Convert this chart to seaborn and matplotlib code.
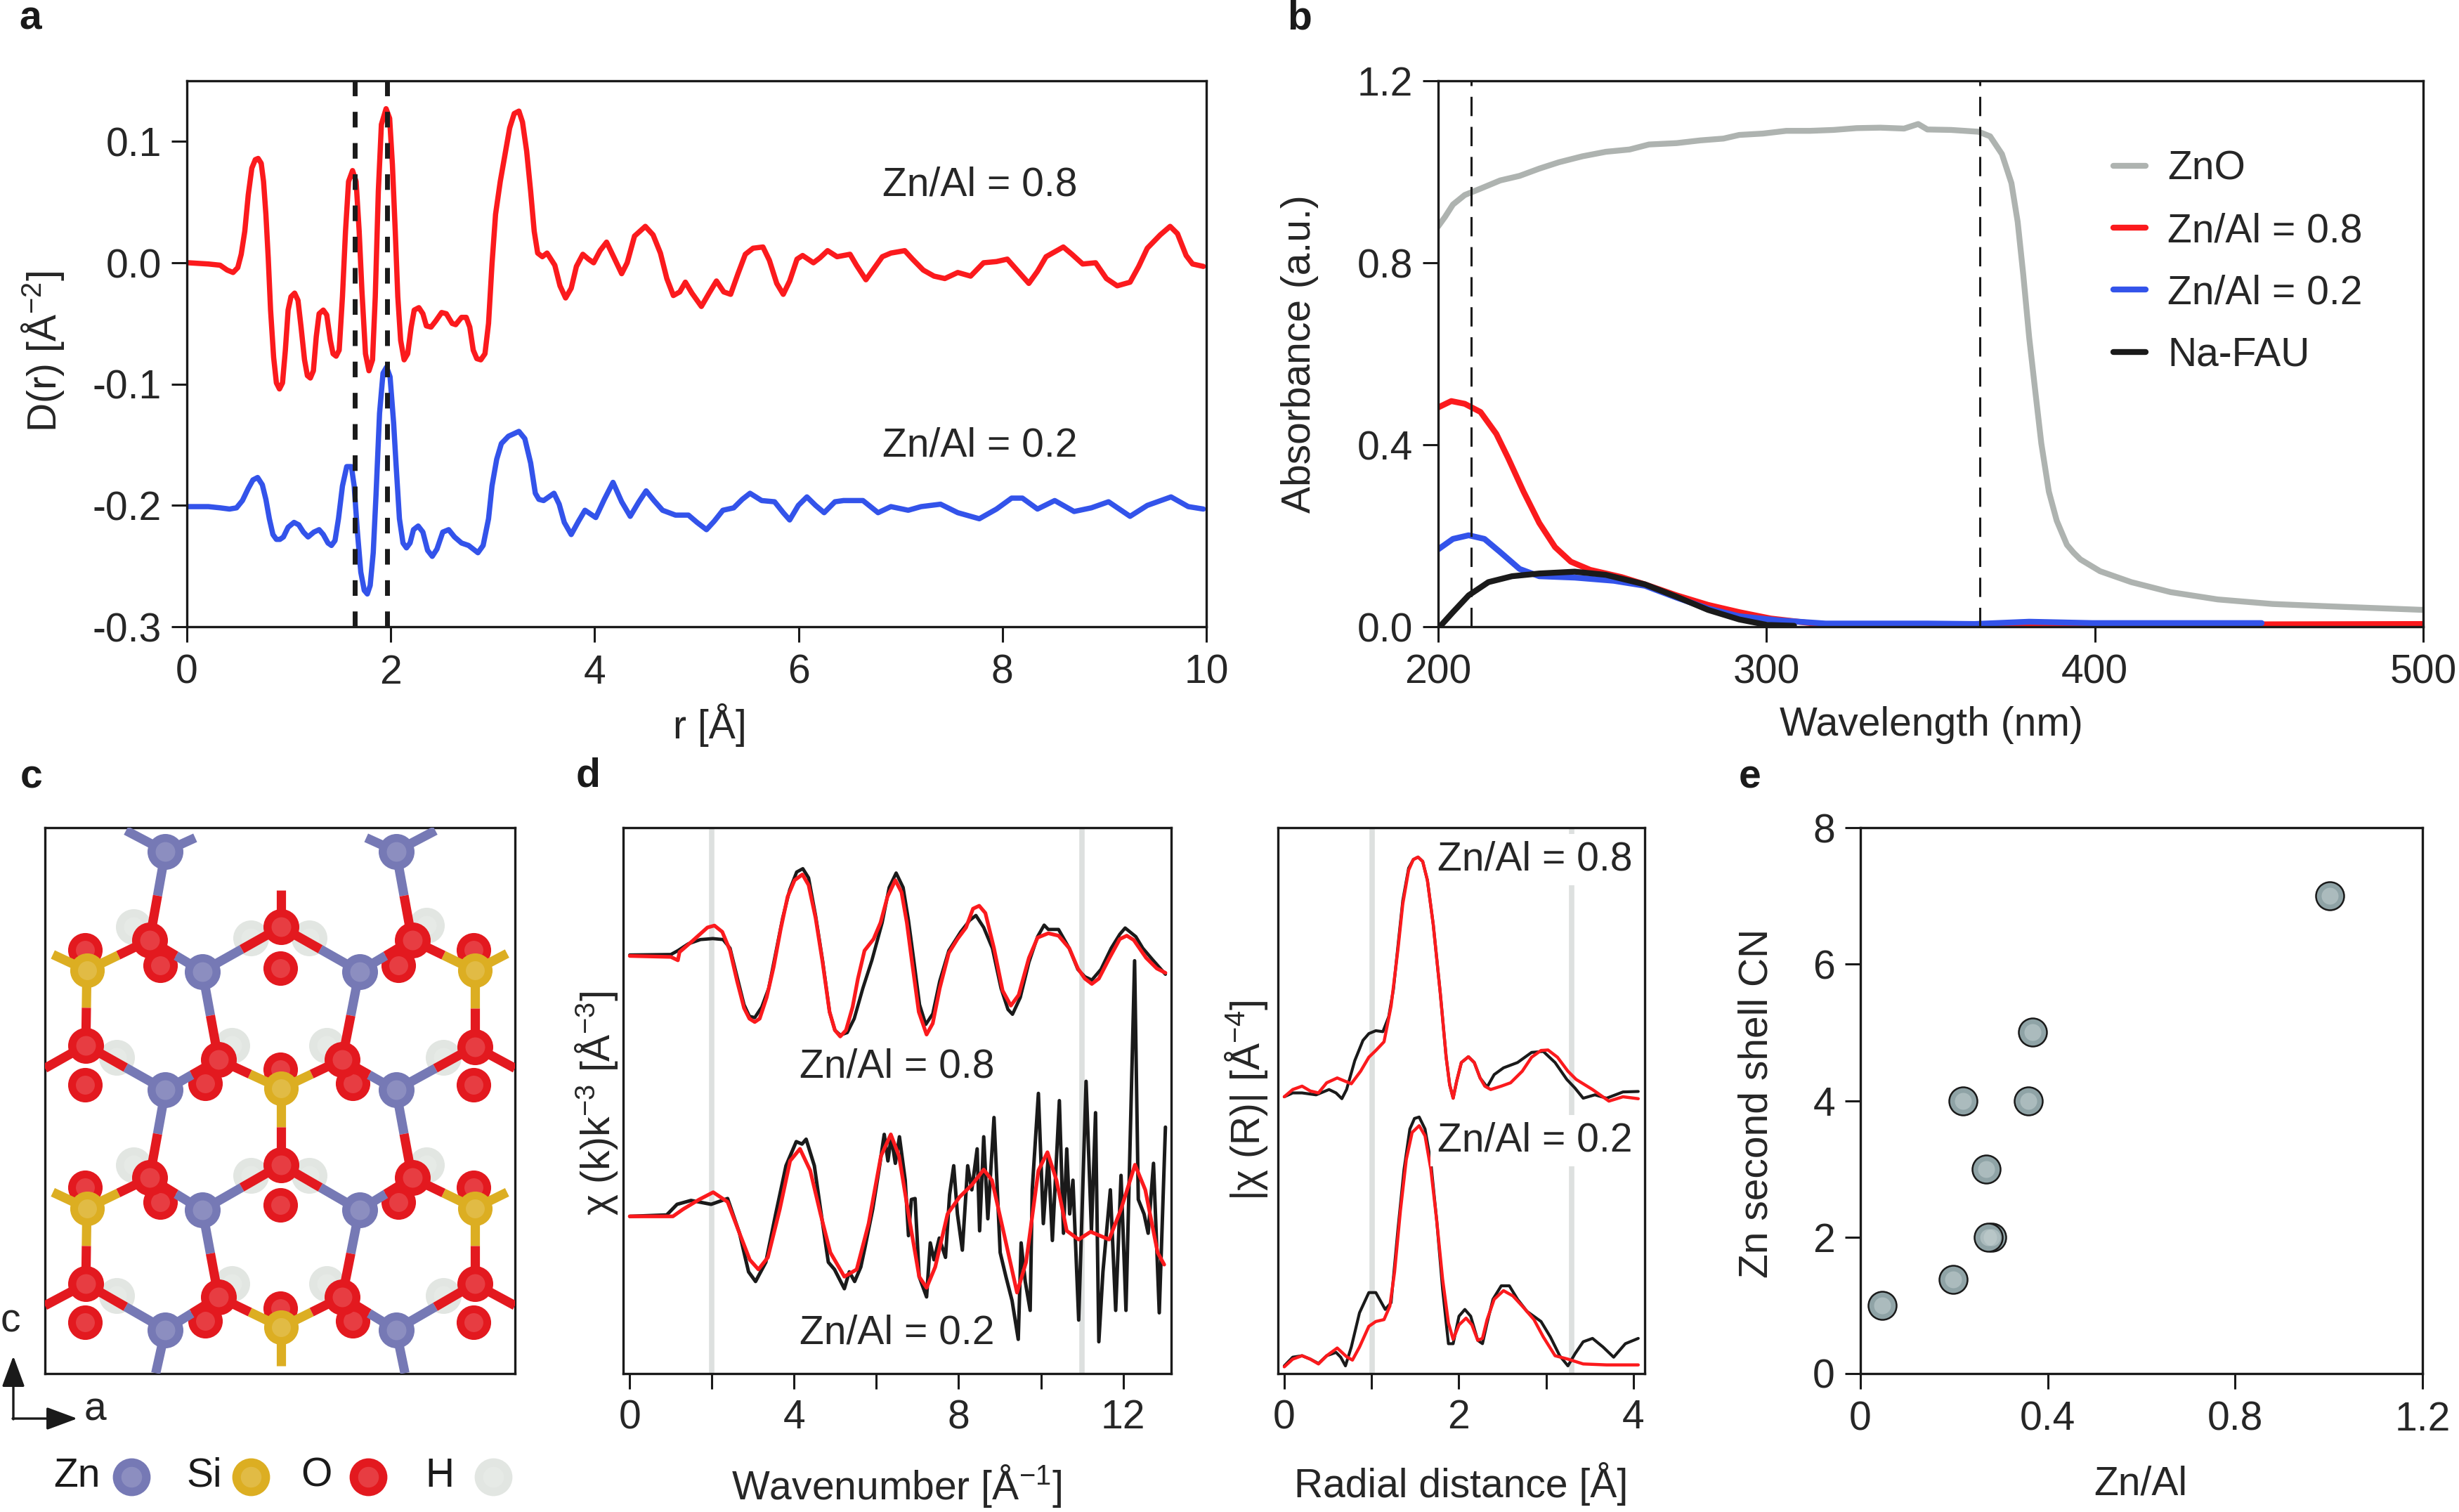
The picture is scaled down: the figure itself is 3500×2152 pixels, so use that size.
"""
Zn/Al zeolite figure: PDF, UV-vis, structure, EXAFS and coordination panels
"""

import matplotlib
matplotlib.use("Agg")
import matplotlib.pyplot as plt
import seaborn as sns

# panel a, D(r)
r_red = [.016, .211, .326, .395, .453, .499, .533, .568, .602, .637, .671, .699, .729, .752, .775, .798, .821, .851, .878, .908,
         .938, .966, .993, 1.021, 1.057, 1.090, 1.120, 1.154, 1.182, 1.211, 1.241, 1.269, 1.297, 1.338, 1.372, 1.407, 1.434, 1.464, 1.494, 1.526,
         1.556, 1.586, 1.625, 1.660, 1.690, 1.717, 1.752, 1.786, 1.821, 1.848, 1.878, 1.908, 1.954, 1.989, 2.016, 2.044, 2.069, 2.097, 2.131, 2.166,
         2.200, 2.230, 2.276, 2.315, 2.349, 2.395, 2.441, 2.499, 2.545, 2.602, 2.637, 2.694, 2.740, 2.775, 2.809, 2.844, 2.883, 2.924, 2.959, 2.993,
         3.028, 3.074, 3.120, 3.166, 3.211, 3.257, 3.292, 3.333, 3.372, 3.407, 3.441, 3.487, 3.533,
         3.609, 3.660, 3.715, 3.770, 3.821, 3.884, 3.939, 3.990, 4.053, 4.117, 4.180, 4.265, 4.319, 4.391, 4.497, 4.573, 4.645, 4.708, 4.772,
         4.835, 4.890, 4.954, 5.047, 5.123, 5.195, 5.266, 5.334, 5.406, 5.478, 5.554, 5.651, 5.714, 5.786, 5.850, 5.913, 5.985, 6.040, 6.146, 6.209,
         6.285, 6.378, 6.505, 6.568, 6.661, 6.737, 6.822, 6.906, 7.042, 7.118, 7.223, 7.329, 7.435, 7.562, 7.688, 7.815, 7.942, 8.048, 8.153, 8.259,
         8.344, 8.428, 8.597, 8.682, 8.787, 8.914, 9.020, 9.126, 9.252, 9.337, 9.421, 9.548, 9.645, 9.717, 9.802, 9.865, 9.971]
d_red = [0, -.001, -.002, -.006, -.008, -.004, .007, .026, .056, .078, .085, .086, .082, .067, .040, .004, -.039, -.078, -.099, -.104,
         -.099, -.072, -.039, -.028, -.025, -.031, -.053, -.080, -.093, -.095, -.089, -.061, -.042, -.039, -.043, -.064, -.075, -.077, -.072, -.028,
         .026, .067, .076, .067, .026, -.023, -.075, -.089, -.080, -.028, .059, .114, .127, .119, .081, .026, -.028, -.064, -.080, -.075,
         -.053, -.039, -.037, -.042, -.052, -.053, -.048, -.041, -.042, -.050, -.051, -.045, -.045, -.053, -.072, -.079, -.080, -.075, -.050, -.001,
         .040, .067, .089, .111, .123, .125, .116, .092, .059, .026, .008, .005, .008,
         -.002, -.019, -.029, -.021, -.003, .007, .003, .000, .010, .017, .006, -.009, .000, .022, .030, .023, .008, -.013, -.027,
         -.024, -.016, -.025, -.036, -.025, -.015, -.024, -.026, -.009, .007, .012, .013, .002, -.017, -.026, -.015, .003, .006, 0, .004,
         .010, .005, .007, -.002, -.014, -.005, .005, .008, .010, .003, -.006, -.011, -.013, -.008, -.011, 0, .001, .003, -.007, -.017,
         -.007, .005, .013, .007, -.001, 0, -.013, -.019, -.016, -.003, .012, .023, .030, .024, .006, -.001, -.003]
r_blue = [.016, .211, .326, .418, .487, .545, .602, .648, .694, .740, .775, .809, .844, .878, .913, .947, .993, 1.051, 1.097, 1.143,
          1.189, 1.246, 1.297, 1.338, 1.384, 1.418, 1.453, 1.487, 1.526, 1.568, 1.614, 1.641, 1.671, 1.706, 1.740, 1.770, 1.798, 1.828, 1.855, 1.890,
          1.924, 1.959, 1.993, 2.028, 2.051, 2.085, 2.120, 2.154, 2.189, 2.223, 2.269, 2.315, 2.361, 2.407, 2.453, 2.510, 2.568, 2.625, 2.694, 2.763,
          2.855, 2.906, 2.959, 2.993, 3.039, 3.085, 3.154, 3.257, 3.315, 3.372, 3.418, 3.453, 3.499,
          3.601, 3.652, 3.702, 3.770, 3.842, 3.905, 4.011, 4.095, 4.180, 4.265, 4.349, 4.434, 4.505, 4.582, 4.666, 4.793, 4.920, 5.004, 5.097, 5.173,
          5.258, 5.364, 5.448, 5.524, 5.638, 5.765, 5.850, 5.913, 5.998, 6.082, 6.167, 6.251, 6.357, 6.441, 6.632, 6.780, 6.906, 7.076, 7.202, 7.393,
          7.562, 7.773, 7.942, 8.090, 8.196, 8.344, 8.513, 8.703, 8.872, 9.041, 9.252, 9.421, 9.654, 9.823, 9.971]
d_blue = [-.201, -.201, -.202, -.203, -.202, -.196, -.186, -.179, -.177, -.183, -.195, -.211, -.224, -.228, -.228, -.226, -.218, -.214, -.216, -.222,
          -.226, -.222, -.220, -.224, -.231, -.233, -.229, -.211, -.184, -.168, -.168, -.184, -.220, -.255, -.270, -.273, -.266, -.239, -.192, -.124,
          -.091, -.086, -.094, -.132, -.165, -.211, -.231, -.235, -.231, -.220, -.217, -.222, -.237, -.242, -.236, -.222, -.220, -.226, -.231, -.233,
          -.239, -.233, -.211, -.184, -.162, -.149, -.143, -.139, -.145, -.165, -.190, -.195, -.196,
          -.190, -.199, -.214, -.224, -.213, -.204, -.210, -.195, -.181, -.197, -.209, -.197, -.188, -.196, -.204, -.208, -.208, -.214, -.220, -.213,
          -.204, -.202, -.195, -.190, -.196, -.197, -.206, -.212, -.200, -.193, -.200, -.206, -.197, -.196, -.196, -.206, -.201, -.204, -.201, -.199,
          -.206, -.211, -.203, -.194, -.194, -.203, -.196, -.205, -.202, -.197, -.209, -.200, -.193, -.201, -.203]
a_ticks_x = [0, 2, 4, 6, 8, 10]
a_ticks_y = [-.3, -.2, -.1, 0, .1]
a_tick_labels_y = ["-0.3", "-0.2", "-0.1", "0.0", "0.1"]
a_dashes = [1.65, 1.965]

# panel b, absorbance
wl_zno = [200, 202.1, 204.5, 208.1, 212.9, 218.9, 224.8, 230.8, 236.8, 243.9, 251.1, 258.3, 264.2, 272.6, 279.8, 286.9,
          291.7, 298.9, 306, 313.2, 320.4, 327.5, 334.7, 341.9, 346.2, 349, 356.2, 364.6, 368.1, 371.7, 374.6, 376.5,
          378.2, 380, 382, 383.7, 386, 388.4, 391.5, 393.5, 395.6, 401.6, 411.1, 423.1, 437.4, 454.1, 470.8, 500]
abs_zno = [.880, .901, .928, .949, .963, .981, .991, 1.007, 1.021, 1.034, 1.044, 1.049, 1.060, 1.063, 1.069, 1.073,
           1.081, 1.084, 1.090, 1.090, 1.092, 1.096, 1.097, 1.095, 1.105, 1.093, 1.092, 1.088, 1.078, 1.039, .975, .890,
           .774, .636, .509, .403, .297, .233, .180, .163, .148, .122, .098, .076, .060, .050, .045, .037]
wl_red = [200, 204, 208.1, 212.9, 217.7, 221.3, 226, 230.8, 235.6, 240.4, 246.3, 255.9, 263, 272.6, 282.2, 291.7, 301.3,
          315.6, 327.5, 375.3, 500]
abs_red = [.482, .496, .490, .472, .424, .371, .297, .228, .175, .143, .125, .109, .093, .069, .048, .032, .018,
           .006, .004, .004, .006]
wl_blue = [200, 204.5, 209.3, 214.1, 218.9, 224.8, 230.8, 241.6, 253.5, 263, 272.6, 282.2, 291.7, 303.7, 318, 349,
           363.4, 380, 399.2, 450.8]
abs_blue = [.170, .193, .201, .193, .164, .127, .111, .108, .101, .090, .064, .040, .023, .014, .007, .007,
            .006, .011, .008, .008]
wl_fau = [200.5, 204.5, 209.3, 215.3, 222.5, 230.8, 241.6, 251.1, 263, 272.6, 282.2, 291.7, 300.1, 308.4]
abs_fau = [0, .032, .069, .098, .111, .117, .121, .114, .093, .066, .037, .016, .004, .002]
b_ticks_x = [200, 300, 400, 500]
b_ticks_y = [0, .4, .8, 1.2]
b_tick_labels_y = ["0.0", "0.4", "0.8", "1.2"]
b_dashes = [210, 365]

# panel d left, chi(k), offset arbitrary units
k_top_exp = [0, 1.00, 1.17, 1.42, 1.72, 2.02, 2.27, 2.44, 2.61, 2.78, 2.91, 3.04, 3.21, 3.38, 3.55, 3.72, 3.89, 4.06, 4.21, 4.35,
             4.52, 4.69, 4.86, 4.99, 5.12, 5.29, 5.46, 5.67, 5.89, 6.14, 6.31, 6.48, 6.65, 6.78, 6.91, 7.05, 7.20, 7.37, 7.54, 7.76,
             8.05, 8.27, 8.42, 8.61, 8.82, 9.03, 9.20, 9.31, 9.50, 9.71, 9.92, 10.08, 10.18, 10.43, 10.69, 10.90, 11.07, 11.24,
             11.46, 11.71, 11.92, 12.05, 12.31, 12.48, 12.73, 13.03]
chi_top_exp = [868, 869, 877, 891, 900, 902, 900, 882, 823, 765, 741, 738, 760, 799, 872, 945, 1003, 1040, 1047, 1028,
               950, 857, 750, 712, 702, 707, 736, 799, 857, 935, 1008, 1038, 1008, 940, 857, 765, 724, 746, 814, 877,
               916, 940, 950, 925, 882, 799, 755, 745, 780, 853, 906, 930, 921, 921, 882, 838, 823, 816,
               838, 882, 911, 924, 906, 882, 857, 828]
k_top_fit = [0, 1.00, 1.17, 1.21, 1.51, 1.89, 2.06, 2.25, 2.44, 2.61, 2.78, 2.91, 3.04, 3.16, 3.33, 3.50, 3.67, 3.84, 4.01, 4.20,
             4.35, 4.52, 4.69, 4.86, 4.99, 5.12, 5.26, 5.42, 5.55, 5.71, 5.93, 6.10, 6.27, 6.46, 6.61, 6.74, 6.86, 7.03, 7.22, 7.37,
             7.54, 7.76, 7.97, 8.18, 8.35, 8.50, 8.65, 8.86, 9.07, 9.27, 9.46, 9.71, 9.92, 10.18, 10.43, 10.69, 10.90, 11.07,
             11.24, 11.41, 11.67, 11.92, 12.09, 12.26, 12.56, 12.82, 13.03]
chi_top_fit = [866, 864, 857, 874, 896, 925, 929, 916, 877, 814, 758, 736, 729, 736, 780, 843, 921, 989, 1023, 1035,
               1013, 945, 853, 750, 712, 699, 712, 760, 819, 877, 901, 935, 989, 1023, 998, 935, 857, 750, 703, 726,
               799, 872, 901, 925, 964, 970, 955, 882, 794, 763, 785, 862, 904, 913, 908, 882, 840, 819,
               808, 819, 862, 901, 908, 899, 862, 840, 831]
k_low_exp = [0, .90, 1.15, 1.49, 1.98, 2.38, 2.67, 2.89, 3.06, 3.31, 3.55, 3.80, 4.05, 4.19, 4.29, 4.49, 4.64, 4.83, 4.98, 5.22,
             5.34, 5.47, 5.62, 5.72, 5.91, 6.06, 6.19, 6.28, 6.36, 6.46, 6.56, 6.70, 6.78, 6.85, 6.94, 7.04, 7.22, 7.31, 7.40, 7.53,
             7.68, 7.78, 7.88, 7.97, 8.09, 8.22, 8.32, 8.45, 8.51, 8.61, 8.71, 8.86, 9.01, 9.15, 9.30, 9.45, 9.52, 9.62, 9.74, 9.79,
             9.94, 10.06, 10.18, 10.28, 10.45, 10.55, 10.63, 10.70, 10.78, 10.92, 11.10, 11.23, 11.33, 11.41, 11.51, 11.69, 11.82,
             11.95, 12.07, 12.28, 12.37, 12.51, 12.61, 12.74, 12.88, 13.03]
chi_low_exp = [326, 329, 351, 359, 351, 363, 291, 211, 191, 231, 331, 431, 481, 476, 486, 431, 341, 231, 216, 176,
               211, 191, 221, 261, 341, 421, 496, 441, 491, 436, 491, 401, 286, 361, 363, 201, 159, 271, 236, 281,
               241, 371, 431, 331, 256, 431, 381, 466, 296, 491, 321, 531, 251, 201, 151, 71, 271, 191, 131, 381,
               581, 311, 451, 276, 566, 291, 466, 331, 401, 111, 606, 296, 541, 66, 211, 381, 131,
               411, 131, 856, 361, 331, 291, 436, 126, 511]
k_low_fit = [0, 1.05, 1.30, 1.69, 2.03, 2.38, 2.67, 2.92, 3.13, 3.36, 3.65, 3.90, 4.14, 4.39, 4.64, 4.88, 5.22, 5.52, 5.81, 6.11,
             6.35, 6.55, 6.80, 7.04, 7.22, 7.43, 7.73, 8.02, 8.32, 8.61, 8.81, 9.10, 9.42, 9.64, 9.94, 10.16, 10.38, 10.63, 10.92,
             11.21, 11.66, 11.95, 12.29, 12.54, 12.84, 13.00]
chi_low_fit = [326, 326, 341, 361, 376, 356, 291, 236, 216, 241, 341, 441, 466, 421, 331, 251, 201, 216, 311, 451,
               496, 451, 321, 201, 178, 221, 331, 366, 391, 423, 401, 291, 168, 231, 421, 459, 401, 296, 278,
               294, 278, 341, 433, 381, 251, 226]
d_ticks_k = [0, 2, 4, 6, 8, 10, 12]
d_tick_labels_k = ["0", "", "4", "", "8", "", "12"]
d_windows_k = [2, 11]

# panel d right, |chi(R)|
r_top_exp = [0, .097, .204, .365, .513, .593, .660, .714, .808, .902, .969, 1.049, 1.130, 1.197, 1.251, 1.304, 1.358, 1.425, 1.479, 1.533,
             1.586, 1.640, 1.707, 1.787, 1.855, 1.895, 1.935, 1.975, 2.029, 2.110, 2.177, 2.244, 2.324, 2.405, 2.512, 2.673, 2.834, 2.968,
             3.103, 3.237, 3.331, 3.425, 3.559, 3.693, 3.881, 4.056]
chi_r_top_exp = [574, 582, 582, 578, 589, 582, 570, 589, 649, 691, 705, 711, 709, 740, 797, 889, 981, 1048, 1066, 1071,
                 1062, 1023, 931, 790, 656, 599, 571, 606, 645, 657, 645, 613, 594, 620, 634, 645, 666, 668,
                 645, 610, 592, 571, 578, 571, 584, 585]
r_top_fit = [0, .097, .204, .298, .392, .486, .607, .768, .875, .969, 1.049, 1.143, 1.224, 1.304, 1.358, 1.425, 1.479, 1.533,
             1.586, 1.640, 1.707, 1.787, 1.855, 1.895, 1.935, 1.975, 2.029, 2.110, 2.177, 2.244, 2.298, 2.365, 2.486, 2.593,
             2.727, 2.834, 2.942, 3.022, 3.130, 3.250, 3.344, 3.532, 3.720, 3.881, 4.056]
chi_r_top_fit = [574, 589, 596, 586, 582, 603, 613, 601, 627, 656, 670, 688, 762, 882, 974, 1044, 1066, 1071,
                 1062, 1023, 931, 790, 656, 599, 571, 606, 645, 657, 645, 613, 596, 589, 596, 603,
                 627, 656, 670, 671, 656, 627, 610, 589, 565, 574, 570]
r_low_exp = [0, .097, .204, .298, .392, .486, .593, .647, .701, .768, .862, .969, 1.049, 1.157, 1.224, 1.304, 1.372, 1.439, 1.492, 1.546,
             1.613, 1.680, 1.747, 1.814, 1.881, 1.935, 2.002, 2.069, 2.136, 2.217, 2.271, 2.324, 2.391, 2.486, 2.579, 2.673, 2.781, 2.942,
             3.049, 3.156, 3.250, 3.331, 3.425, 3.532, 3.653, 3.774, 3.908, 4.056]
chi_r_low_exp = [16, 34, 37, 30, 21, 37, 44, 34, 16, 55, 126, 168, 168, 133, 147, 302, 423, 507, 529, 532,
                 507, 437, 317, 175, 62, 62, 119, 133, 119, 69, 62, 105, 154, 182, 182, 154, 129, 108,
                 76, 37, 16, 41, 66, 73, 55, 34, 62, 73]
r_low_fit = [0, .097, .204, .298, .392, .486, .607, .714, .781, .862, .969, 1.049, 1.143, 1.210, 1.264, 1.331, 1.398, 1.465, 1.546,
             1.613, 1.680, 1.747, 1.814, 1.881, 1.935, 2.002, 2.083, 2.150, 2.217, 2.271, 2.324, 2.405, 2.512, 2.620, 2.727, 2.861,
             2.968, 3.103, 3.250, 3.425, 3.693, 4.056]
chi_r_low_fit = [14, 30, 37, 30, 20, 37, 53, 35, 28, 55, 98, 108, 112, 140, 211, 338, 444, 500, 514,
                 493, 423, 317, 196, 105, 71, 101, 115, 101, 69, 73, 112, 154, 172, 161, 140, 112,
                 76, 37, 30, 20, 18, 18]
d2_ticks_r = [0, 1, 2, 3, 4]
d2_tick_labels_r = ["0", "", "2", "", "4"]
d2_windows_r = [1.01, 3.29]

# panel e, coordination number
zn_al = [.047, .198, .219, .358, .367, .268, .281, .273, 1.002]
zn_cn = [1, 1.38, 4, 4, 5, 3, 2, 2, 7]
e_ticks_x = [0, .4, .8, 1.2]
e_tick_labels_x = ["0", "0.4", "0.8", "1.2"]
e_ticks_y = [0, 2, 4, 6, 8]

# panel c, atom sites in the drawing's own frame
zn_atoms = [(462, 198), (1105, 198), (565, 447), (1003, 447), (462, 693), (1105, 693), (565, 942), (1003, 942),
            (462, 1190), (1105, 1190)]
si_atoms = [(243, 445), (1325, 445), (785, 690), (243, 938), (1325, 938), (785, 1185)]
o_front = [(418, 382), (1150, 382), (785, 355), (240, 600), (1325, 603), (610, 630), (955, 630), (418, 875),
           (1150, 875), (785, 848), (240, 1095), (1325, 1095), (610, 1122), (955, 1122)]
o_back = [(237, 402), (1322, 402), (447, 435), (1112, 435), (782, 440), (237, 682), (1322, 682), (572, 680),
          (985, 680), (782, 650), (237, 895), (1322, 895), (447, 925), (1112, 925), (782, 932), (237, 1175),
          (1322, 1175), (572, 1172), (985, 1172), (782, 1145)]
h_atoms = [(372, 355), (1190, 352), (700, 378), (862, 378), (648, 600), (912, 600), (325, 625), (1238, 625),
           (372, 848), (1190, 848), (700, 870), (862, 870), (648, 1095), (912, 1095), (325, 1120), (1238, 1120)]
zn_o_bonds = [((462, 198), (418, 382)), ((1105, 198), (1150, 382)), ((565, 447), (418, 382)), ((1003, 447), (1150, 382)),
              ((565, 447), (785, 355)), ((1003, 447), (785, 355)), ((565, 447), (610, 630)), ((1003, 447), (955, 630)),
              ((462, 693), (610, 630)), ((1105, 693), (955, 630)), ((462, 693), (240, 600)), ((1105, 693), (1325, 603)),
              ((462, 693), (418, 875)), ((1105, 693), (1150, 875)), ((565, 942), (418, 875)), ((1003, 942), (1150, 875)),
              ((565, 942), (785, 848)), ((1003, 942), (785, 848)), ((565, 942), (610, 1122)), ((1003, 942), (955, 1122)),
              ((462, 1190), (610, 1122)), ((1105, 1190), (955, 1122)), ((462, 1190), (240, 1095)), ((1105, 1190), (1325, 1095))]
si_o_bonds = [((243, 445), (418, 382)), ((1325, 445), (1150, 382)), ((243, 445), (240, 600)), ((1325, 445), (1325, 603)),
              ((785, 690), (610, 630)), ((785, 690), (955, 630)), ((785, 690), (785, 848)), ((243, 938), (418, 875)),
              ((1325, 938), (1150, 875)), ((243, 938), (240, 1095)), ((1325, 938), (1325, 1095)),
              ((785, 1185), (610, 1122)), ((785, 1185), (955, 1122))]
o_stubs = [((785, 355), (785, 278)), ((240, 600), (126, 648)), ((1325, 603), (1437, 648)), ((240, 1095), (126, 1140)),
           ((1325, 1095), (1437, 1140))]
si_stubs = [((785, 1185), (785, 1265)), ((243, 445), (148, 412)), ((1325, 445), (1415, 410)), ((243, 938), (148, 905)),
            ((1325, 938), (1415, 905))]
zn_stubs = [((462, 198), (352, 155)), ((462, 198), (545, 170)), ((1105, 198), (1022, 170)), ((1105, 198), (1215, 155)),
            ((462, 1190), (435, 1280)), ((1105, 1190), (1130, 1280))]

RED = "#fb1a1d"
BLUE = "#3353ea"
GREY = "#aeb3b0"
BLACK = "#1a1a1a"
WINDOW = "#dde0df"
ZN_COLOR = "#7679b5"
SI_COLOR = "#dcae22"
O_COLOR = "#e3191f"
H_COLOR = "#e2e6e2"
FONT = 41
BOND = 9.5

sns.set_theme(style="ticks")
plt.rcParams["font.family"] = ["Liberation Sans", "DejaVu Sans"]
plt.rcParams["mathtext.fontset"] = "custom"
plt.rcParams["mathtext.rm"] = "Liberation Sans"
plt.rcParams["mathtext.default"] = "regular"
plt.rcParams["axes.linewidth"] = 2.4
plt.rcParams["axes.unicode_minus"] = False
plt.rcParams["font.size"] = FONT

fig = plt.figure(figsize=(35, 21.52), dpi=100)
W, H = 3500, 2152


def px_axes(left, top, right, bottom):
    return fig.add_axes([left / W, 1 - bottom / H, (right - left) / W, (bottom - top) / H])


overlay = fig.add_axes([0, 0, 1, 1], zorder=10)
overlay.set_xlim(0, W)
overlay.set_ylim(H, 0)
overlay.axis("off")
px = overlay.transData


def curve(ax, x, y, color, lw, label=None):
    sns.lineplot(x=x, y=y, ax=ax, color=color, linewidth=lw, sort=False, estimator=None, errorbar=None, label=label)


def style_axis(ax, xlabel, ylabel, xpos, ypos, tick_len=16, xpad=12, ypad=10):
    ax.set_xlabel(xlabel, fontsize=FONT, va="center")
    ax.set_ylabel(ylabel, fontsize=FONT, va="center")
    ax.xaxis.set_label_coords(xpos[0], xpos[1], transform=px)
    ax.yaxis.set_label_coords(ypos[0], ypos[1], transform=px)
    ax.tick_params(axis="x", direction="out", length=tick_len, width=2.2, labelsize=FONT, pad=xpad, color=BLACK)
    ax.tick_params(axis="y", direction="out", length=tick_len, width=2.2, labelsize=FONT, pad=ypad, color=BLACK)
    for side in ax.spines.values():
        side.set_color(BLACK)


# a
ax_a = px_axes(266, 115, 1717, 892)
curve(ax_a, r_red, d_red, RED, 5.4)
curve(ax_a, r_blue, d_blue, BLUE, 5.4)
for x0 in a_dashes:
    ax_a.axvline(x0, color=BLACK, linewidth=5, dashes=(3.2, 3.2))
ax_a.set_xlim(0, 10)
ax_a.set_ylim(-.3, .15)
ax_a.set_xticks(a_ticks_x)
ax_a.set_yticks(a_ticks_y, a_tick_labels_y)
ax_a.text(7.78, .064, "Zn/Al = 0.8", ha="center", va="center", fontsize=FONT)
ax_a.text(7.78, -.151, "Zn/Al = 0.2", ha="center", va="center", fontsize=FONT)
style_axis(ax_a, "r [Å]", "D(r) [Å$^{-2}$]", (1010, 1032), (61, 500))

# b
ax_b = px_axes(2047, 115, 3449, 892)
curve(ax_b, wl_zno, abs_zno, GREY, 6, "ZnO")
curve(ax_b, wl_red, abs_red, RED, 6, "Zn/Al = 0.8")
curve(ax_b, wl_blue, abs_blue, BLUE, 6, "Zn/Al = 0.2")
curve(ax_b, wl_fau, abs_fau, BLACK, 6, "Na-FAU")
for x0 in b_dashes:
    ax_b.axvline(x0, color=BLACK, linewidth=2.2, dashes=(9, 5))
ax_b.set_xlim(200, 500)
ax_b.set_ylim(0, 1.2)
ax_b.set_xticks(b_ticks_x)
ax_b.set_yticks(b_ticks_y, b_tick_labels_y)
ax_b.legend(loc="upper left", bbox_to_anchor=(3008, 214), bbox_transform=px, frameon=False, fontsize=FONT,
            borderpad=0, borderaxespad=0, handlelength=.8, handletextpad=.55, labelspacing=.6)
style_axis(ax_b, "Wavelength (nm)", "Absorbance (a.u.)", (2749, 1032), (1850, 504))

# c, ball and stick drawing
ax_c = px_axes(64, 1178, 733, 1955)
ax_c.set_xlim(126, 1437)
ax_c.set_ylim(1281, 149)


def balls(ax, sites, color, size, zorder, shine="white"):
    xs = [s[0] for s in sites]
    ys = [s[1] for s in sites]
    sns.scatterplot(x=xs, y=ys, ax=ax, color=color, s=size, linewidth=0, zorder=zorder)
    sns.scatterplot(x=xs, y=ys, ax=ax, color=shine, s=size * .3, alpha=.16, linewidth=0, zorder=zorder + .1)


def two_tone(ax, bonds, color, zorder=4):
    # first half keeps the metal colour, second half goes red towards the oxygen
    for (x1, y1), (x2, y2) in bonds:
        xm, ym = (x1 + x2) / 2, (y1 + y2) / 2
        ax.plot([x1, xm], [y1, ym], color=color, linewidth=BOND, solid_capstyle="butt", zorder=zorder)
        ax.plot([xm, x2], [ym, y2], color=O_COLOR, linewidth=BOND, solid_capstyle="butt", zorder=zorder)


def stubs(ax, bonds, color, zorder=4):
    for (x1, y1), (x2, y2) in bonds:
        ax.plot([x1, x2], [y1, y2], color=color, linewidth=BOND, solid_capstyle="butt", zorder=zorder)


balls(ax_c, h_atoms, H_COLOR, 1350, 2)
balls(ax_c, o_back, O_COLOR, 1250, 3)
two_tone(ax_c, zn_o_bonds, ZN_COLOR)
two_tone(ax_c, si_o_bonds, SI_COLOR)
stubs(ax_c, o_stubs, O_COLOR)
stubs(ax_c, si_stubs, SI_COLOR)
stubs(ax_c, zn_stubs, ZN_COLOR)
balls(ax_c, o_front, O_COLOR, 1350, 5)
balls(ax_c, zn_atoms, ZN_COLOR, 1350, 6)
balls(ax_c, si_atoms, SI_COLOR, 1250, 6)
ax_c.set_xticks([])
ax_c.set_yticks([])
for side in ax_c.spines.values():
    side.set_color(BLACK)

# d left
ax_d1 = px_axes(887, 1178, 1667, 1955)
for x0 in d_windows_k:
    ax_d1.axvline(x0, color=WINDOW, linewidth=5.5, zorder=1)
curve(ax_d1, k_top_exp, chi_top_exp, BLACK, 3.4)
curve(ax_d1, k_low_exp, chi_low_exp, BLACK, 3.6)
curve(ax_d1, k_top_fit, chi_top_fit, RED, 3.8)
curve(ax_d1, k_low_fit, chi_low_fit, RED, 3.8)
ax_d1.set_xlim(-.16, 13.17)
ax_d1.set_ylim(0, 1132)
ax_d1.set_xticks(d_ticks_k, d_tick_labels_k)
ax_d1.set_yticks([])
ax_d1.text(6.5, 636, "Zn/Al = 0.8", ha="center", va="center", fontsize=FONT)
ax_d1.text(6.5, 84, "Zn/Al = 0.2", ha="center", va="center", fontsize=FONT)
style_axis(ax_d1, "Wavenumber [Å$^{-1}$]", "χ (k)k$^{-3}$ [Å$^{-3}$]", (1276, 2115), (849, 1570), xpad=10)

# d right
ax_d2 = px_axes(1819, 1178, 2341, 1955)
for x0 in d2_windows_r:
    ax_d2.axvline(x0, color=WINDOW, linewidth=5.5, zorder=1)
curve(ax_d2, r_top_exp, chi_r_top_exp, BLACK, 3)
curve(ax_d2, r_low_exp, chi_r_low_exp, BLACK, 3)
curve(ax_d2, r_top_fit, chi_r_top_fit, RED, 3.2)
curve(ax_d2, r_low_fit, chi_r_low_fit, RED, 3.2)
ax_d2.set_xlim(-.072, 4.13)
ax_d2.set_ylim(0, 1132)
ax_d2.set_xticks(d2_ticks_r, d2_tick_labels_r)
ax_d2.set_yticks([])
white_box = dict(facecolor="white", edgecolor="none", pad=7)
ax_d2.text(2.87, 1066, "Zn/Al = 0.8", ha="center", va="center", fontsize=FONT, bbox=white_box, zorder=3)
ax_d2.text(2.87, 483, "Zn/Al = 0.2", ha="center", va="center", fontsize=FONT, bbox=white_box, zorder=3)
style_axis(ax_d2, "Radial distance [Å]", "|χ (R)| [Å$^{-4}$]", (2080, 2112), (1774, 1566), xpad=10)

# e
ax_e = px_axes(2648, 1178, 3448, 1955)
sns.scatterplot(x=zn_al, y=zn_cn, ax=ax_e, color="#8fa3a6", s=830, edgecolor=BLACK, linewidth=1.8, zorder=3)
sns.scatterplot(x=zn_al, y=zn_cn, ax=ax_e, color="#c3d0d1", s=300, alpha=.55, linewidth=0, zorder=4)
ax_e.set_xlim(0, 1.2)
ax_e.set_ylim(0, 8)
ax_e.set_xticks(e_ticks_x, e_tick_labels_x)
ax_e.set_yticks(e_ticks_y)
style_axis(ax_e, "Zn/Al", "Zn second shell CN", (3047, 2113), (2500, 1570), tick_len=16, xpad=12, ypad=10)

# panel letters and the drawing's key
for letter, x0, y0 in [("a", 43, 27), ("b", 1850, 27), ("c", 45, 1107), ("d", 837, 1105), ("e", 2491, 1107)]:
    overlay.text(x0, y0, letter, ha="center", va="center", fontsize=FONT, fontweight="bold", color=BLACK)
for label, x_text, x_ball, color in [("Zn", 110, 187, ZN_COLOR), ("Si", 291, 357, SI_COLOR),
                                     ("O", 450, 524, O_COLOR), ("H", 626, 702, H_COLOR)]:
    overlay.text(x_text, 2101, label, ha="center", va="center", fontsize=FONT, color=BLACK)
    balls(overlay, [(x_ball, 2102)], color, 1500, 5)
overlay.set_xlim(0, W)
overlay.set_ylim(H, 0)
overlay.text(15, 1880, "c", ha="center", va="center", fontsize=FONT)
overlay.text(135, 2006, "a", ha="center", va="center", fontsize=FONT)
arrow = dict(arrowstyle="-|>,head_length=2.7,head_width=1.0", mutation_scale=10, color=BLACK, linewidth=2.4,
             shrinkA=0, shrinkB=0)
overlay.annotate("", xy=(19, 1930), xytext=(19, 2020), arrowprops=arrow)
overlay.annotate("", xy=(110, 2019), xytext=(18, 2019), arrowprops=arrow)

plt.savefig("out.png", dpi=100)
plt.close()
